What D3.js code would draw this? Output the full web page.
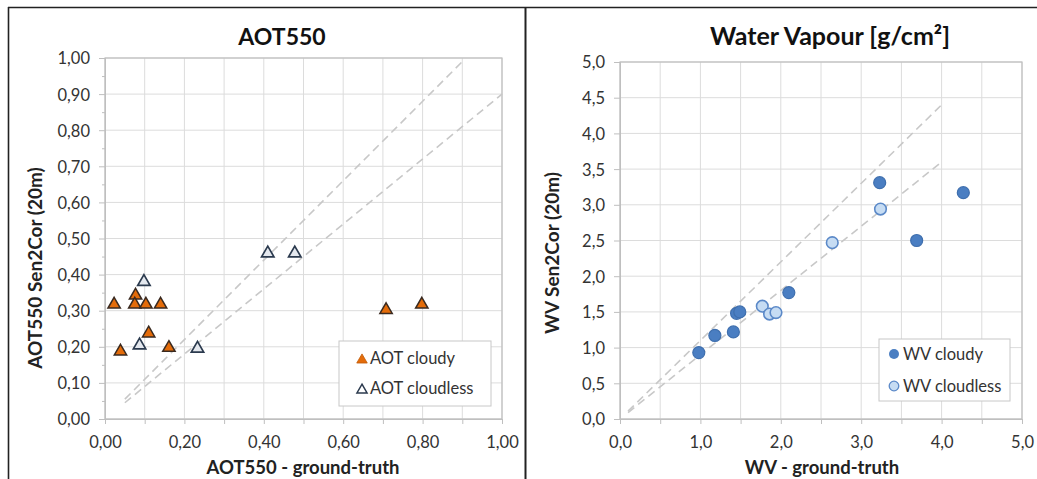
<!DOCTYPE html>
<html><head><meta charset="utf-8">
<script src="https://cdn.jsdelivr.net/npm/d3@7"></script>
<style>
body{margin:0;background:#fff;}
svg{display:block;font-family:Lato,"Open Sans",sans-serif;}
</style></head>
<body><svg id="c" width="1037" height="479"></svg>
<script>
// ---- data ----
const aotCloudyX = [0.023,0.039,0.077,0.075,0.103,0.140,0.110,0.161,0.708,0.798];
const aotCloudyY = [0.32,0.19,0.345,0.32,0.32,0.32,0.24,0.20,0.305,0.32];
const aotClearX = [0.098,0.087,0.233,0.410,0.478];
const aotClearY = [0.383,0.207,0.198,0.462,0.462];
const wvCloudyX = [0.98,1.18,1.41,1.45,1.49,2.10,3.23,4.27,3.69];
const wvCloudyY = [0.93,1.17,1.22,1.48,1.50,1.77,3.31,3.17,2.50];
const wvClearX = [1.77,1.86,1.94,2.64,3.24];
const wvClearY = [1.58,1.47,1.49,2.47,2.94];
const refSlopes = [1.1, 0.9];
const aotRefRanges = [[0.05,0.9],[0.05,1.0]];
const wvRefRanges = [[0.1,4.0],[0.1,4.0]];
const aotTicksY = d3.range(0,1.0001,0.1);
const aotTicksX = d3.range(0,1.0001,0.2);
const wvTicksY = d3.range(0,5.0001,0.5);
const wvTicksX = d3.range(0,5.0001,1.0);

const svg = d3.select("#c");
const fmt2 = d => d3.format(".2f")(d).replace(".",",");
const fmt1 = d => d3.format(".1f")(d).replace(".",",");

// frames
svg.append("line").attr("x1",8).attr("x2",1037).attr("y1",7.5).attr("y2",7.5).attr("stroke","#222").attr("stroke-width",1.6);
svg.append("line").attr("x1",8.5).attr("x2",8.5).attr("y1",7).attr("y2",479).attr("stroke","#222").attr("stroke-width",1.6);
svg.append("line").attr("x1",525.5).attr("x2",525.5).attr("y1",7).attr("y2",479).attr("stroke","#222").attr("stroke-width",2);

function panel(o){
  const g = svg.append("g");
  const x = d3.scaleLinear().domain([0,o.max]).range([o.x0,o.x1]);
  const y = d3.scaleLinear().domain([0,o.max]).range([o.y1,o.y0]);
  g.selectAll(".gx").data(o.gridX).join("line")
    .attr("x1",d=>x(d)).attr("x2",d=>x(d)).attr("y1",o.y0).attr("y2",o.y1)
    .attr("stroke","#dcdcdc").attr("stroke-width",1);
  g.selectAll(".gy").data(o.gridY).join("line")
    .attr("y1",d=>y(d)).attr("y2",d=>y(d)).attr("x1",o.x0).attr("x2",o.x1)
    .attr("stroke","#dcdcdc").attr("stroke-width",1);
  g.append("rect").attr("x",o.x0).attr("y",o.y0).attr("width",o.x1-o.x0).attr("height",o.y1-o.y0)
    .attr("fill","none").attr("stroke","#bfbfbf").attr("stroke-width",1.2);
  const ax = g.append("g").attr("transform",`translate(0,${o.y1})`)
    .call(d3.axisBottom(x).tickValues(o.gridX).tickSize(5).tickFormat(d=>o.labX.some(v=>Math.abs(v-d)<1e-9)?o.fmt(d):""));
  const ay = g.append("g").attr("transform",`translate(${o.x0},0)`)
    .call(d3.axisLeft(y).tickValues(o.tickY).tickSize(6).tickFormat(o.fmt));
  if(o.minorY){
    g.append("g").attr("transform",`translate(${o.x0},0)`)
      .call(d3.axisLeft(y).tickValues(o.minorY).tickSize(3).tickFormat(""))
      .call(s=>s.select(".domain").remove())
      .selectAll("line").attr("stroke","#bfbfbf");
  }
  [ax,ay].forEach(a=>{
    a.select(".domain").attr("stroke","#bfbfbf");
    a.selectAll(".tick line").attr("stroke","#bfbfbf");
    a.selectAll("text").attr("fill","#333").style("font-size","16.5px").style("font-family","Lato,'Open Sans',sans-serif");
  });
  ax.selectAll("text").attr("dy",21);
  ay.selectAll("text").attr("dx",-6).attr("dy","0.36em");
  refSlopes.forEach((s,i)=>{
    const r = o.refRanges[i];
    g.append("line").attr("x1",x(r[0])).attr("y1",y(r[0]*s)).attr("x2",x(r[1])).attr("y2",y(r[1]*s))
      .attr("stroke","#c8c8c8").attr("stroke-width",1.6).attr("stroke-dasharray","8,5");
  });
  g.append("text").attr("x",o.titleX).attr("y",45).attr("text-anchor","middle")
    .style("font-size",o.titleSize+"px").style("font-weight","bold").attr("fill","#111").html(o.title);
  g.append("text").attr("x",o.xlabX).attr("y",474).attr("text-anchor","middle")
    .style("font-size","18.5px").style("font-weight","bold").attr("fill","#222").text(o.xlab);
  g.append("text").attr("transform",`translate(${o.ylabX},${o.ylabY}) rotate(-90)`).attr("text-anchor","middle")
    .style("font-size","19px").style("font-weight","bold").attr("fill","#222").text(o.ylab);
  return {g,x,y};
}

// ---- left panel ----
const L = panel({max:1.0,x0:105,x1:502,y0:58,y1:419,
  gridX:d3.range(0,1.0001,0.1), gridY:aotTicksY, labX:aotTicksX, tickY:aotTicksY,
  minorY:d3.range(0.05,1.0,0.1), fmt:fmt2, refRanges:aotRefRanges,
  title:"AOT550", titleSize:23, titleX:282, xlab:"AOT550 - ground-truth", xlabX:303,
  ylab:"AOT550 Sen2Cor (20m)", ylabX:42, ylabY:268});
const tri = d3.symbol().type(d3.symbolTriangle).size(66);
L.g.selectAll(".cl").data(aotClearX.map((v,i)=>[v,aotClearY[i]])).join("path")
  .attr("d",tri).attr("transform",d=>`translate(${L.x(d[0])},${L.y(d[1])+1})`)
  .attr("fill","#e4e8ee").attr("stroke","#2b3a4e").attr("stroke-width",1.7);
L.g.selectAll(".cd").data(aotCloudyX.map((v,i)=>[v,aotCloudyY[i]])).join("path")
  .attr("d",tri).attr("transform",d=>`translate(${L.x(d[0])},${L.y(d[1])+1})`)
  .attr("fill","#e46c0a").attr("stroke","#3a2a20").attr("stroke-width",1.5);
// legend left
L.g.append("rect").attr("x",339).attr("y",341).attr("width",152).attr("height",65).attr("fill","#fff").attr("stroke","#c8c8c8");
L.g.append("path").attr("d",d3.symbol().type(d3.symbolTriangle).size(48)).attr("transform","translate(362,360)")
  .attr("fill","#e46c0a").attr("stroke","#c05a08").attr("stroke-width",0.8);
L.g.append("path").attr("d",d3.symbol().type(d3.symbolTriangle).size(44)).attr("transform","translate(362,390)")
  .attr("fill","#fff").attr("stroke","#2b3a4e").attr("stroke-width",1.5);
L.g.append("text").attr("x",370).attr("y",364).style("font-size","16.5px").attr("fill","#333").text("AOT cloudy");
L.g.append("text").attr("x",370).attr("y",394).style("font-size","16.5px").attr("fill","#333").text("AOT cloudless");

// ---- right panel ----
const R = panel({max:5.0,x0:620,x1:1022,y0:62,y1:419,
  gridX:d3.range(0,5.0001,0.5), gridY:wvTicksY, labX:wvTicksX, tickY:wvTicksY,
  minorY:null, fmt:fmt1, refRanges:wvRefRanges,
  title:"Water Vapour [g/cm<tspan>²</tspan>]", titleSize:25, titleX:830, xlab:"WV - ground-truth", xlabX:822,
  ylab:"WV Sen2Cor (20m)", ylabX:559, ylabY:253});
R.g.selectAll(".wcl").data(wvClearX.map((v,i)=>[v,wvClearY[i]])).join("circle")
  .attr("cx",d=>R.x(d[0])).attr("cy",d=>R.y(d[1])).attr("r",5.8)
  .attr("fill","#c6dcf3").attr("stroke","#5b89c8").attr("stroke-width",1.6);
R.g.selectAll(".wcd").data(wvCloudyX.map((v,i)=>[v,wvCloudyY[i]])).join("circle")
  .attr("cx",d=>R.x(d[0])).attr("cy",d=>R.y(d[1])).attr("r",6)
  .attr("fill","#4a7ec2").attr("stroke","#3f6fae").attr("stroke-width",1.2);
R.g.append("rect").attr("x",879).attr("y",339).attr("width",131).attr("height",62).attr("fill","#fff").attr("stroke","#c8c8c8");
R.g.append("circle").attr("cx",894).attr("cy",354).attr("r",5).attr("fill","#4a7ec2");
R.g.append("circle").attr("cx",894).attr("cy",386).attr("r",4.8).attr("fill","#c6dcf3").attr("stroke","#5b89c8").attr("stroke-width",1.3);
R.g.append("text").attr("x",903).attr("y",360).style("font-size","16.5px").attr("fill","#333").text("WV cloudy");
R.g.append("text").attr("x",903).attr("y",392).style("font-size","16.5px").attr("fill","#333").text("WV cloudless");
</script></body></html>
